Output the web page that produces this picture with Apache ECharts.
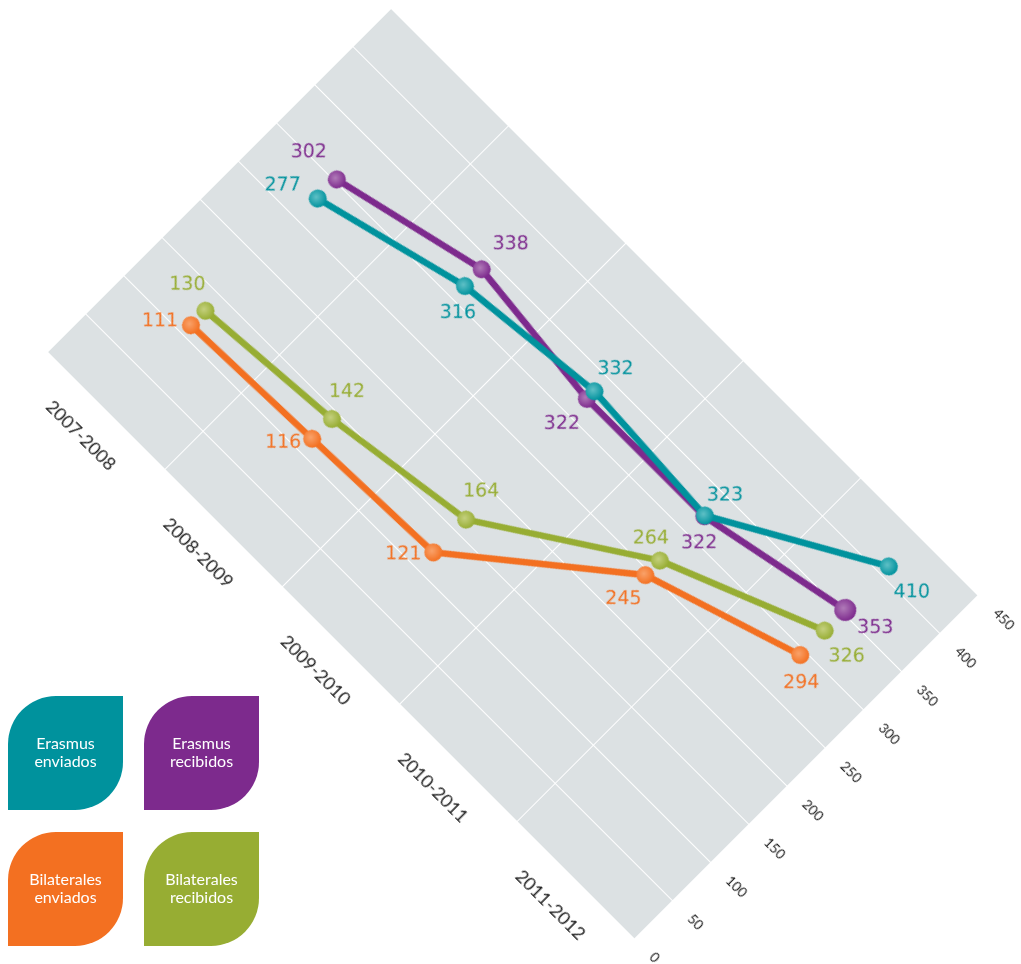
<!DOCTYPE html>
<html><head><meta charset="utf-8">
<script src="https://cdn.jsdelivr.net/npm/echarts@6/dist/echarts.min.js"></script>
<style>
html,body{margin:0;padding:0;width:1021px;height:964px;overflow:hidden;background:#fff;}
#chart{position:absolute;left:377.27px;top:-63.11px;width:1000px;height:640px;transform-origin:0 0;transform:rotate(45deg);}
#legend{position:absolute;left:0;top:680px;width:280px;height:284px;z-index:2;}
</style></head><body>
<div id="chart"></div><div id="legend"></div>
<script>
// ---- data ----
const categories = ['2007-2008', '2008-2009', '2009-2010', '2010-2011', '2011-2012'];
const erasmusEnviados = [277, 316, 332, 323, 410];
const erasmusRecibidos = [302, 338, 322, 322, 353];
const bilateralesEnviados = [111, 116, 121, 245, 294];
const bilateralesRecibidos = [130, 142, 164, 264, 326];
const valueMin = 0, valueMax = 450, valueStep = 50;
const seriesNames = ['Erasmus enviados', 'Erasmus recibidos', 'Bilaterales enviados', 'Bilaterales recibidos'];

// ---- style / layout ----
const colors = ['#00929d', '#7d2a8d', '#f37021', '#97ad33'];
const lightColors = ['#5fc0c6', '#b07ab8', '#f9a26a', '#c4d07e'];
// label offsets on screen (dx, dy) from each point
const labelOffsets = [
  [[-35,-13],[-7,27],[21,-22],[20,-20],[23,26]],
  [[-28,-27],[29,-25],[-25,25],[-5,27],[30,18]],
  [[-31,-4],[-29,4],[-30,2],[-22,24],[1,28]],
  [[-18,-26],[15,-27],[15,-28],[-9,-22],[22,26]]
];

const allSeries = [erasmusEnviados, erasmusRecibidos, bilateralesEnviados, bilateralesRecibidos];
const drawOrder = [2, 3, 1, 0];

const chart = echarts.init(document.getElementById('chart'), null, {renderer: 'canvas'});
const series = drawOrder.map(function(i){
  const vals = allSeries[i];
  return {
    name: seriesNames[i],
    type: 'line',
    z: 2 + drawOrder.indexOf(i),
    data: vals.map(function(v, k){
      return { value: v, label: { offset: labelOffsets[i][k] } };
    }),
    symbol: 'circle',
    symbolSize: function(v, p){ return (i === 1 && p.dataIndex === 4) ? 22 : 18; },
    lineStyle: { color: colors[i], width: 6.5 },
    itemStyle: {
      color: new echarts.graphic.RadialGradient(0.38, 0.5, 0.6, [
        {offset: 0, color: lightColors[i]}, {offset: 1, color: colors[i]}
      ]),
      borderWidth: 0
    },
    label: {
      show: true,
      position: 'inside',
      rotate: 45,
      color: colors[i],
      textBorderWidth: 0,
      fontFamily: 'DejaVu Sans',
      fontWeight: 'normal',
      fontSize: 19,
      formatter: '{c}'
    },
    emphasis: { disabled: true },
    animation: false
  };
});

chart.setOption({
  animation: false,
  grid: { left: 60, top: 40, width: 830, height: 486, show: true, backgroundColor: '#dce1e3', borderWidth: 0, outerBoundsMode: 'none' },
  xAxis: {
    type: 'category', data: categories, boundaryGap: true,
    axisLine: { show: false }, axisTick: { show: false },
    axisLabel: { interval: 0, margin: 27, fontSize: 18, color: '#222', fontFamily: 'Lato' },
    splitLine: { show: true, interval: 0, lineStyle: { color: '#ffffff', width: 1 } }
  },
  yAxis: {
    type: 'value', position: 'right', min: valueMin, max: valueMax, interval: valueStep,
    axisLine: { show: false }, axisTick: { show: false },
    axisLabel: { margin: 24, fontSize: 13.5, color: '#222', fontFamily: 'Lato' },
    splitLine: { show: true, lineStyle: { color: '#ffffff', width: 1 } }
  },
  series: series
});

// ---- legend ----
const legend = echarts.init(document.getElementById('legend'));
const boxPos = [[8,16],[144,16],[8,152],[144,152]];
const graphics = [];
seriesNames.forEach(function(name, i){
  const p = boxPos[i];
  graphics.push({
    type: 'rect', x: p[0], y: p[1],
    shape: { x: 0, y: 0, width: 115, height: 114, r: [48, 0, 48, 0] },
    style: { fill: colors[i] }
  });
  graphics.push({
    type: 'text', x: p[0] + 57.5, y: p[1] + 57,
    style: { text: name.replace(' ', '\n'), fill: '#fff', font: '16px Lato', align: 'center', verticalAlign: 'middle', lineHeight: 18 }
  });
});
legend.setOption({ animation: false, graphic: graphics });
</script>
</body></html>
